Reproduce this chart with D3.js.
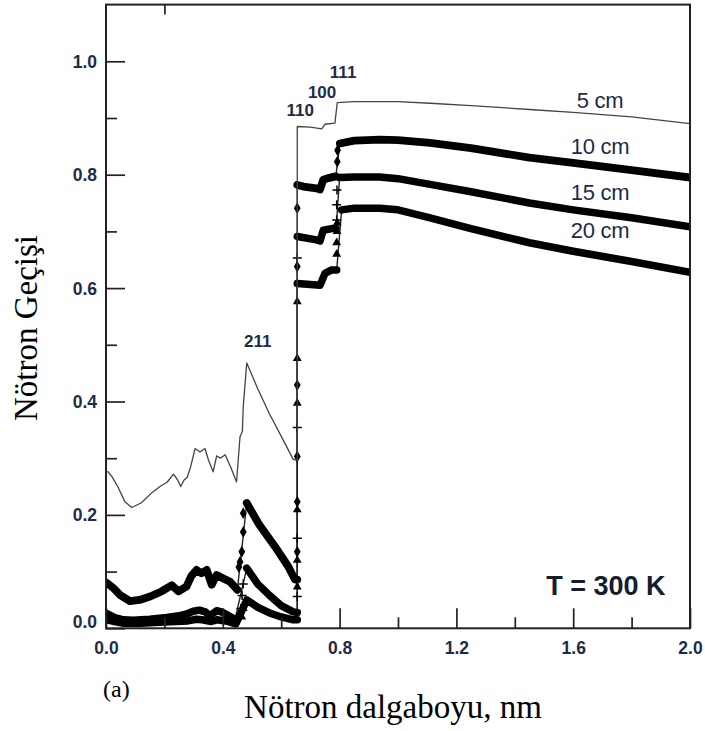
<!DOCTYPE html>
<html>
<head>
<meta charset="utf-8">
<script src="https://cdn.jsdelivr.net/npm/d3@7"></script>
<style>
  body { margin: 0; background: #fff; }
  svg { display: block; }
</style>
</head>
<body>
<svg id="chart" width="705" height="731"></svg>
<script>
// Neutron transmission vs. wavelength for four sample thicknesses (T = 300 K)

// tick values
const xTicksMajor = [0, 0.4, 0.8, 1.2, 1.6, 2.0];
const xTicksMinor = [0.2, 0.6, 1.0, 1.4, 1.8];
const xTicksTop = [0.2];
const yTicksMajor = [0, 0.2, 0.4, 0.6, 0.8, 1.0];
const yTicksMinor = [0.1, 0.3, 0.5, 0.7, 0.9];

// series names
const seriesNames = ["5 cm", "10 cm", "15 cm", "20 cm"];

// Bragg edge labels
const edgeLabels = ["110", "100", "111", "211"];

// [wavelength nm, transmission]
const cm5 = [
  [0.005, 0.277], [0.02, 0.268], [0.04, 0.250], [0.065, 0.223], [0.088, 0.213],
  [0.12, 0.221], [0.155, 0.238], [0.185, 0.250], [0.21, 0.258], [0.231, 0.272],
  [0.245, 0.262], [0.256, 0.250], [0.268, 0.262], [0.278, 0.266], [0.29, 0.285],
  [0.305, 0.317], [0.322, 0.311], [0.339, 0.317], [0.352, 0.295], [0.367, 0.276],
  [0.379, 0.304], [0.392, 0.300], [0.408, 0.306], [0.428, 0.283], [0.447, 0.258],
  [0.459, 0.338], [0.467, 0.347], [0.470, 0.391], [0.482, 0.468], [0.52, 0.422],
  [0.56, 0.378], [0.60, 0.339], [0.641, 0.298], [0.655, 0.296], [0.655, 0.885],
  [0.70, 0.884], [0.739, 0.881], [0.75, 0.889], [0.784, 0.891], [0.792, 0.927],
  [0.85, 0.929], [1.0, 0.929], [1.11, 0.926], [1.25, 0.922], [1.45, 0.915],
  [1.6, 0.910], [1.8, 0.902], [2.0, 0.890]
];

const cm10 = [
  [0.003, 0.080], [0.025, 0.071], [0.05, 0.058], [0.082, 0.048], [0.115, 0.050],
  [0.151, 0.056], [0.19, 0.065], [0.225, 0.076], [0.248, 0.065], [0.276, 0.074],
  [0.292, 0.092], [0.310, 0.103], [0.327, 0.097], [0.345, 0.103], [0.362, 0.077],
  [0.379, 0.094], [0.402, 0.088], [0.425, 0.082], [0.450, 0.068], [0.482, 0.221],
  [0.522, 0.185], [0.579, 0.144], [0.624, 0.109], [0.647, 0.086], [0.655, 0.086],
  [0.655, 0.782], [0.676, 0.779], [0.721, 0.776], [0.733, 0.774], [0.744, 0.791],
  [0.761, 0.794], [0.787, 0.797], [0.801, 0.855], [0.85, 0.860], [0.937, 0.862],
  [1.0, 0.861], [1.11, 0.856], [1.25, 0.847], [1.45, 0.830], [1.6, 0.821],
  [1.8, 0.808], [2.0, 0.795]
];

const cm15 = [
  [0.003, 0.026], [0.03, 0.019], [0.06, 0.015], [0.093, 0.014], [0.15, 0.016],
  [0.208, 0.019], [0.25, 0.022], [0.28, 0.026], [0.299, 0.030], [0.32, 0.032],
  [0.34, 0.029], [0.356, 0.022], [0.379, 0.031], [0.40, 0.028], [0.442, 0.016],
  [0.482, 0.106], [0.52, 0.078], [0.56, 0.058], [0.60, 0.040], [0.641, 0.029],
  [0.655, 0.028], [0.655, 0.691], [0.721, 0.685], [0.733, 0.683], [0.744, 0.702],
  [0.773, 0.705], [0.788, 0.705], [0.80, 0.795], [0.85, 0.796], [0.937, 0.796],
  [1.0, 0.793], [1.11, 0.783], [1.25, 0.770], [1.45, 0.750], [1.6, 0.738],
  [1.8, 0.724], [2.0, 0.708]
];

const cm20 = [
  [0.003, 0.015], [0.03, 0.012], [0.06, 0.009], [0.12, 0.009], [0.2, 0.011],
  [0.28, 0.013], [0.31, 0.016], [0.33, 0.015], [0.36, 0.012], [0.38, 0.015],
  [0.41, 0.013], [0.445, 0.008], [0.482, 0.050], [0.52, 0.037], [0.56, 0.027],
  [0.60, 0.020], [0.641, 0.015], [0.655, 0.015], [0.655, 0.608], [0.733, 0.605],
  [0.75, 0.626], [0.773, 0.632], [0.79, 0.632], [0.807, 0.738], [0.85, 0.741],
  [0.937, 0.741], [1.0, 0.738], [1.11, 0.724], [1.25, 0.705], [1.45, 0.680],
  [1.6, 0.665], [1.8, 0.647], [2.0, 0.628]
];

// sparse markers that sit on the steep Bragg edges
const edgeMarks10 = [
  [0.455, 0.108], [0.459, 0.117], [0.465, 0.135], [0.470, 0.170], [0.470, 0.203],
  [0.655, 0.135], [0.655, 0.223], [0.655, 0.303], [0.655, 0.429], [0.655, 0.638],
  [0.655, 0.741], [0.792, 0.823], [0.793, 0.843]
];
const edgeMarks15 = [
  [0.462, 0.035], [0.466, 0.058], [0.470, 0.078],
  [0.655, 0.056], [0.655, 0.159], [0.655, 0.354], [0.655, 0.653],
  [0.790, 0.720], [0.790, 0.747], [0.791, 0.773]
];
const edgeMarks20 = [
  [0.465, 0.020], [0.470, 0.035],
  [0.655, 0.073], [0.655, 0.120], [0.655, 0.209], [0.655, 0.397], [0.655, 0.476],
  [0.655, 0.576], [0.790, 0.660], [0.790, 0.680], [0.791, 0.700], [0.792, 0.715]
];

const svg = d3.select("#chart");
const x = d3.scaleLinear().domain([0, 2]).range([106, 690]);
const y = d3.scaleLinear().domain([0, 1.1]).range([628.3, 4.6]);

const labelColor = "#1e2b48";
const sans = "'Liberation Sans', Arial, sans-serif";
const serif = "'Liberation Serif', 'Times New Roman', serif";

svg.append("defs").append("clipPath").attr("id", "plotClip")
  .append("rect")
  .attr("x", x(0)).attr("y", y(1.1))
  .attr("width", x(2) - x(0)).attr("height", y(0) - y(1.1));

const plot = svg.append("g").attr("clip-path", "url(#plotClip)");

// thin trace through every point of a series
const thinLine = d3.line().x(d => x(d[0])).y(d => y(d[1]));

function drawThin(data, color, width) {
  plot.append("path").datum(data)
    .attr("d", thinLine)
    .attr("fill", "none")
    .attr("stroke", color)
    .attr("stroke-width", width)
    .attr("stroke-linejoin", "round");
}

// dense marker band: drawn as a wide stroke, broken on steep edges
function drawBand(data, width) {
  const runs = [];
  let run = [data[0]];
  for (let i = 1; i < data.length; i++) {
    const dx = Math.abs(x(data[i][0]) - x(data[i - 1][0]));
    const dy = Math.abs(y(data[i][1]) - y(data[i - 1][1]));
    if (dy > 12 && dy > 3 * dx) {
      runs.push(run);
      run = [data[i]];
    } else {
      run.push(data[i]);
    }
  }
  runs.push(run);
  runs.forEach(r => {
    plot.append("path").datum(r)
      .attr("d", r.length > 1 ? thinLine(r) : `M${x(r[0][0])},${y(r[0][1])}h0.01`)
      .attr("fill", "none")
      .attr("stroke", "#000")
      .attr("stroke-width", width)
      .attr("stroke-linejoin", "round")
      .attr("stroke-linecap", "round");
  });
}

const symDiamond = d3.symbol().type(d3.symbolDiamond).size(40);
const symTriangle = d3.symbol().type(d3.symbolTriangle).size(34);

function drawMarks(data, kind) {
  const g = plot.append("g");
  data.forEach(d => {
    const t = `translate(${x(d[0])},${y(d[1])})`;
    if (kind === "plus") {
      g.append("path")
        .attr("d", "M-4.5,0H4.5M0,-4.5V4.5")
        .attr("transform", t)
        .attr("stroke", "#000").attr("stroke-width", 1.5).attr("fill", "none");
    } else {
      g.append("path")
        .attr("d", kind === "diamond" ? symDiamond() : symTriangle())
        .attr("transform", t)
        .attr("fill", "#000");
    }
  });
}

// thin connectors (vertical edges)
drawThin(cm20, "#222", 1.4);
drawThin(cm15, "#222", 1.4);
drawThin(cm10, "#222", 1.4);

// thick bands
drawBand(cm20, 7.5);
drawBand(cm15, 7.5);
drawBand(cm10, 7.8);

drawMarks(edgeMarks20, "triangle");
drawMarks(edgeMarks15, "plus");
drawMarks(edgeMarks10, "diamond");

// 5 cm curve: thin grey line
drawThin(cm5, "#444", 1.3);

// axes (ticks pointing into the plot)
const axes = svg.append("g").attr("font-family", sans);

function styleAxis(g) {
  g.select(".domain").remove();
  g.selectAll(".tick line").attr("stroke", "#222").attr("stroke-width", 1.7);
}

axes.append("g")
  .attr("transform", `translate(0,${y(0)})`)
  .call(d3.axisBottom(x).tickValues(xTicksMajor).tickSize(-20).tickPadding(13)
    .tickFormat(d3.format(".1f")))
  .call(styleAxis)
  .call(g => g.selectAll("text")
    .attr("font-size", 17.5).attr("font-weight", "bold")
    .attr("font-family", sans).attr("fill", labelColor));

axes.append("g")
  .attr("transform", `translate(0,${y(0)})`)
  .call(d3.axisBottom(x).tickValues(xTicksMinor).tickSize(-11).tickFormat(""))
  .call(styleAxis);

axes.append("g")
  .attr("transform", `translate(0,${y(1.1)})`)
  .call(d3.axisTop(x).tickValues(xTicksTop).tickSize(-10).tickFormat(""))
  .call(styleAxis);

axes.append("g")
  .attr("transform", `translate(${x(0)},0)`)
  .call(d3.axisLeft(y).tickValues(yTicksMajor).tickSize(-19).tickPadding(9)
    .tickFormat(d3.format(".1f")))
  .call(styleAxis)
  .call(g => g.selectAll("text")
    .attr("font-size", 17.5).attr("font-weight", "bold")
    .attr("font-family", sans).attr("fill", labelColor)
    .attr("dy", d => d === 0 ? "-0.05em" : "0.34em"));

axes.append("g")
  .attr("transform", `translate(${x(0)},0)`)
  .call(d3.axisLeft(y).tickValues(yTicksMinor).tickSize(-11).tickFormat(""))
  .call(styleAxis);

// frame
svg.append("rect")
  .attr("x", x(0)).attr("y", y(1.1))
  .attr("width", x(2) - x(0)).attr("height", y(0) - y(1.1))
  .attr("fill", "none").attr("stroke", "#222").attr("stroke-width", 2);

// series labels
const seriesLabelAt = [[1.692, 0.918], [1.692, 0.837], [1.692, 0.755], [1.692, 0.688]];
svg.append("g").selectAll("text").data(seriesNames).join("text")
  .attr("x", (d, i) => x(seriesLabelAt[i][0]))
  .attr("y", (d, i) => y(seriesLabelAt[i][1]))
  .attr("text-anchor", "middle")
  .attr("font-family", sans).attr("font-size", 22)
  .attr("letter-spacing", "-0.3px")
  .attr("fill", labelColor)
  .text(d => d);

// Bragg edge labels
const edgeLabelAt = [[0.665, 0.9035], [0.740, 0.935], [0.812, 0.9705], [0.52, 0.496]];
svg.append("g").selectAll("text").data(edgeLabels).join("text")
  .attr("x", (d, i) => x(edgeLabelAt[i][0]))
  .attr("y", (d, i) => y(edgeLabelAt[i][1]))
  .attr("text-anchor", "middle")
  .attr("font-family", sans).attr("font-size", 17).attr("font-weight", "bold")
  .attr("fill", labelColor)
  .text(d => d);

// temperature
svg.append("text")
  .attr("x", x(1.712)).attr("y", y(0.0587))
  .attr("text-anchor", "middle")
  .attr("font-family", sans).attr("font-size", 27).attr("font-weight", "bold")
  .attr("fill", "#161c2e")
  .text("T = 300 K");

// axis titles
svg.append("text")
  .attr("transform", `translate(37,328) rotate(-90)`)
  .attr("text-anchor", "middle")
  .attr("font-family", serif).attr("font-size", 33)
  .attr("fill", "#000")
  .text("Nötron Geçişi");

svg.append("text")
  .attr("x", 393).attr("y", 718)
  .attr("text-anchor", "middle")
  .attr("font-family", serif).attr("font-size", 33)
  .attr("fill", "#000")
  .text("Nötron dalgaboyu, nm");

svg.append("text")
  .attr("x", 103).attr("y", 697)
  .attr("font-family", serif).attr("font-size", 24)
  .attr("fill", "#000")
  .text("(a)");
</script>
</body>
</html>
